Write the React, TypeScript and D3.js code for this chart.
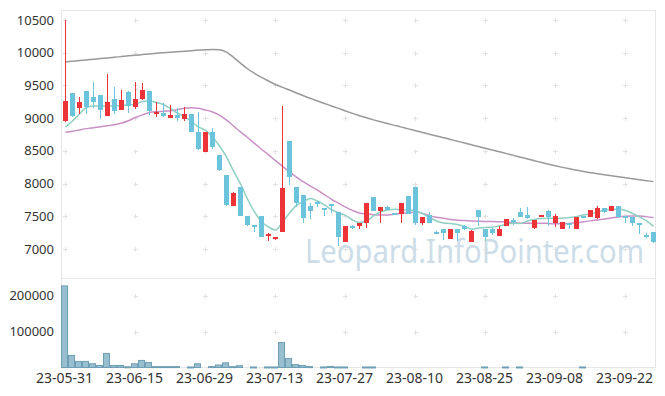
import React from 'react';
import * as d3 from 'd3';

// trading days, 23-05-31 .. 23-10-04
const dates = [
  '23-05-31', '23-06-01', '23-06-02', '23-06-05', '23-06-07', '23-06-08', '23-06-09', '23-06-12', '23-06-13', '23-06-14',
  '23-06-15', '23-06-16', '23-06-19', '23-06-20', '23-06-21', '23-06-22', '23-06-23', '23-06-26', '23-06-27', '23-06-28',
  '23-06-29', '23-06-30', '23-07-03', '23-07-04', '23-07-05', '23-07-06', '23-07-07', '23-07-10', '23-07-11', '23-07-12',
  '23-07-13', '23-07-14', '23-07-17', '23-07-18', '23-07-19', '23-07-20', '23-07-21', '23-07-24', '23-07-25', '23-07-26',
  '23-07-27', '23-07-28', '23-07-31', '23-08-01', '23-08-02', '23-08-03', '23-08-04', '23-08-07', '23-08-08', '23-08-09',
  '23-08-10', '23-08-11', '23-08-14', '23-08-16', '23-08-17', '23-08-18', '23-08-21', '23-08-22', '23-08-23', '23-08-24',
  '23-08-25', '23-08-28', '23-08-29', '23-08-30', '23-08-31', '23-09-01', '23-09-04', '23-09-05', '23-09-06', '23-09-07',
  '23-09-08', '23-09-11', '23-09-12', '23-09-13', '23-09-14', '23-09-15', '23-09-18', '23-09-19', '23-09-20', '23-09-21',
  '23-09-22', '23-09-25', '23-09-26', '23-09-27', '23-10-04',
];

const open = [
  8950, 9380, 9150, 9415, 9320, 9350, 9040, 9290, 9130, 9400,
  9175, 9300, 9415, 9065, 9075, 9000, 9050, 8990, 9065, 8785,
  8490, 8785, 8440, 8130, 7665, 7945, 7505, 7370, 7505, 7195,
  7150, 7265, 8650, 7945, 7825, 7660, 7720, 7625, 7685, 7560,
  7110, 7355, 7355, 7395, 7790, 7575, 7645, 7545, 7530, 7805,
  7945, 7400, 7520, 7265, 7305, 7160, 7305, 7355, 7105, 7595,
  7305, 7305, 7200, 7350, 7440, 7570, 7520, 7315, 7505, 7585,
  7395, 7300, 7400, 7305, 7505, 7495, 7470, 7625, 7585, 7660,
  7505, 7485, 7395, 7215, 7255,
];
const high = [
  10500, 9390, 9320, 9415, 9550, 9355, 9670, 9470, 9425, 9410,
  9550, 9530, 9420, 9240, 9235, 9200, 9150, 9170, 9070, 9090,
  8790, 8845, 8440, 8130, 7870, 7945, 7505, 7370, 7505, 7240,
  7190, 9185, 8650, 7945, 7825, 7700, 7730, 7630, 7690, 7565,
  7355, 7360, 7395, 7700, 7790, 7645, 7650, 7550, 7700, 7805,
  7945, 7490, 7570, 7280, 7310, 7310, 7310, 7360, 7285, 7600,
  7310, 7320, 7355, 7455, 7470, 7625, 7640, 7445, 7525, 7590,
  7535, 7420, 7405, 7490, 7510, 7600, 7650, 7630, 7665, 7660,
  7510, 7490, 7400, 7240, 7255,
];
const low = [
  8940, 9020, 9060, 9060, 9150, 8990, 9030, 9060, 9120, 9075,
  9140, 9270, 9050, 9020, 9020, 8995, 8950, 8950, 8790, 8510,
  8485, 8530, 8195, 7660, 7660, 7505, 7355, 7255, 7185, 7130,
  7140, 7265, 7980, 7640, 7395, 7460, 7640, 7510, 7545, 7050,
  7110, 7310, 7305, 7315, 7575, 7395, 7590, 7525, 7395, 7530,
  7365, 7370, 7395, 7235, 7140, 7155, 7115, 7295, 7100, 7345,
  7115, 7215, 7195, 7345, 7370, 7490, 7455, 7310, 7500, 7350,
  7330, 7300, 7300, 7300, 7490, 7490, 7465, 7550, 7580, 7480,
  7395, 7350, 7230, 7170, 7095,
];
const close = [
  9260, 9040, 9240, 9175, 9240, 9130, 9240, 9115, 9270, 9190,
  9290, 9430, 9115, 9100, 9030, 9050, 9010, 9065, 8795, 8525,
  8785, 8555, 8200, 7675, 7850, 7510, 7360, 7340, 7190, 7235,
  7190, 7935, 8105, 7710, 7470, 7585, 7690, 7590, 7650, 7185,
  7350, 7320, 7395, 7700, 7575, 7645, 7595, 7540, 7700, 7530,
  7405, 7485, 7395, 7245, 7240, 7305, 7250, 7300, 7280, 7485,
  7190, 7250, 7305, 7455, 7435, 7495, 7480, 7445, 7520, 7485,
  7505, 7420, 7385, 7485, 7495, 7595, 7625, 7560, 7660, 7485,
  7480, 7395, 7385, 7190, 7100,
];
const volume = [
  228000, 33800, 17000, 17000, 10400, 5600, 39400, 5600, 5600, 2000,
  10400, 19700, 14000, 2500, 2500, 2500, 2500, 0, 1500, 10400,
  0, 2500, 7000, 13000, 2500, 5000, 0, 1500, 0, 1500,
  1500, 69600, 25400, 8000, 5600, 2500, 0, 1500, 3000, 1500,
  1500, 0, 0, 1500, 1500, 0, 0, 0, 0, 0,
  0, 0, 0, 0, 0, 0, 0, 0, 0, 0,
  1500, 0, 0, 1500, 0, 1500, 0, 0, 0, 0,
  0, 0, 0, 0, 1500, 0, 0, 0, 0, 0,
  0, 0, 0, 0, 0,
];

// moving averages as drawn (short / mid / long)
const maShort = [
  8865, 8957, 9064, 9163, 9186, 9186, 9186, 9186, 9194, 9201,
  9216, 9255, 9262, 9239, 9209, 9148, 9079, 9025, 8949, 8865,
  8812, 8712, 8575, 8407, 8193, 7994, 7765, 7566, 7418, 7337,
  7291, 7413, 7551, 7666, 7727, 7773, 7734, 7673, 7604, 7551,
  7513, 7444, 7406, 7429, 7505, 7566, 7597, 7608, 7597, 7597,
  7582, 7543, 7482, 7429, 7398, 7391, 7375, 7345, 7307, 7322,
  7330, 7333, 7352, 7375, 7398, 7391, 7429, 7452, 7467, 7470,
  7470, 7470, 7482, 7495, 7520, 7536, 7566, 7597, 7608, 7608,
  7589, 7543, 7490, 7429, 7345,
];
const maMid = [
  8784, 8800, 8820, 8840, 8855, 8870, 8885, 8900, 8925, 8960,
  9010, 9050, 9085, 9098, 9105, 9115, 9130, 9150, 9160, 9150,
  9125, 9095, 9045, 8970, 8880, 8790, 8705, 8615, 8525, 8440,
  8350, 8265, 8180, 8100, 8025, 7960, 7900, 7830, 7760, 7700,
  7640, 7590, 7550, 7535, 7525, 7520, 7520, 7530, 7545, 7555,
  7565, 7545, 7510, 7485, 7470, 7450, 7440, 7435, 7430, 7425,
  7420, 7420, 7418, 7415, 7400, 7395, 7395, 7395, 7395, 7390,
  7385, 7385, 7390, 7400, 7415, 7430, 7445, 7460, 7475, 7490,
  7500, 7505, 7505, 7495, 7480,
];
const maLong = [
  9860, 9870, 9880, 9890, 9900, 9910, 9920, 9930, 9941, 9952,
  9962, 9972, 9982, 9991, 10000, 10008, 10016, 10024, 10032, 10040,
  10045, 10048, 10045, 10010, 9930, 9840, 9755, 9685, 9622, 9568,
  9515, 9470, 9430, 9385, 9342, 9302, 9263, 9225, 9187, 9149,
  9110, 9073, 9038, 9005, 8974, 8945, 8917, 8890, 8863, 8836,
  8809, 8782, 8755, 8728, 8701, 8674, 8647, 8620, 8593, 8566,
  8539, 8512, 8485, 8458, 8431, 8404, 8377, 8350, 8323, 8297,
  8272, 8248, 8226, 8205, 8185, 8167, 8150, 8135, 8120, 8105,
  8090, 8075, 8060, 8045, 8030,
];

const priceTicks = [7000, 7500, 8000, 8500, 9000, 9500, 10000, 10500];
const volumeTicks = [100000, 200000];

const W = 665, H = 396;
const L = 61, R = 656;
const pTop = 10, pBottom = 278;
const vTop = 278, vBottom = 367.5;
const font = '"Noto Sans", "DejaVu Sans", sans-serif';
const UP = '#ec3338', DOWN = '#6cc3dc';

export default function App() {
  const idx = d3.range(dates.length);
  const x = d3.scaleBand<number>().domain(idx).range([L, R]);
  const bw = x.bandwidth();
  const cx = (i: number) => Math.round(x(i)! + bw / 2) + 0.5;
  const y = d3.scaleLinear().domain([6557, 10653]).range([pBottom, pTop]);
  const yv = d3.scaleLinear().domain([0, 250000]).range([vBottom, vTop]);

  const mkLine = (vals: number[]) =>
    d3.line<number>().x((_, i) => cx(i)).y(v => y(v)).curve(d3.curveMonotoneX)(vals) || '';

  const xTicks = idx.filter(i => i % 10 === 0);
  const crossYs = [...priceTicks.map(v => y(v)), ...volumeTicks.map(v => yv(v))];

  return (
    <>
      <style>{'body{margin:0}'}</style>
      <svg width={W} height={H} style={{ display: 'block', background: '#fff' }} fontFamily={font}>
        {/* frame */}
        <g stroke="#e6e6e6" fill="none" shapeRendering="crispEdges">
          <line x1={L} x2={R - 1} y1={pTop} y2={pTop} />
          <line x1={L} x2={R - 1} y1={pBottom} y2={pBottom} />
          <line x1={L} x2={R - 1} y1={vBottom} y2={vBottom} />
          <line x1={L} x2={L} y1={pTop} y2={vBottom} />
          <line x1={R - 1} x2={R - 1} y1={pTop} y2={vBottom} />
        </g>

        {/* grid crosses */}
        <g stroke="#e2e2e2" shapeRendering="crispEdges">
          {xTicks.map(i => crossYs.map((cy, k) => (
            <g key={`${i}-${k}`}>
              <line x1={cx(i) - 2.5} x2={cx(i) + 2.5} y1={Math.round(cy) + 0.5} y2={Math.round(cy) + 0.5} />
              <line x1={cx(i)} x2={cx(i)} y1={Math.round(cy) - 2} y2={Math.round(cy) + 3} />
            </g>
          )))}
        </g>

        {/* watermark */}
        <text x={644} y={263} textAnchor="end" fontSize={32} fill="#cddde8"
          textLength={339} lengthAdjust="spacingAndGlyphs">Leopard.InfoPointer.com</text>

        {/* moving averages */}
        <path d={mkLine(maLong)} fill="none" stroke="#999" strokeWidth={1.5} />
        <path d={mkLine(maMid)} fill="none" stroke="#c98fc6" strokeWidth={1.5} />
        <path d={mkLine(maShort)} fill="none" stroke="#8fd0c2" strokeWidth={1.5} />

        {/* candles */}
        <g shapeRendering="crispEdges">
          {idx.map(i => {
            const up = close[i] >= open[i];
            const c = up ? UP : DOWN;
            const yTop = Math.round(y(Math.max(open[i], close[i])));
            const yBot = Math.round(y(Math.min(open[i], close[i])));
            return (
              <g key={i}>
                <line x1={cx(i)} x2={cx(i)} y1={y(high[i])} y2={y(low[i])} stroke={c} strokeWidth={1} />
                <rect x={cx(i) - 2.5} width={5} y={yTop} height={Math.max(2, yBot - yTop)} fill={c} />
              </g>
            );
          })}
        </g>

        {/* volume */}
        <g>
          {idx.filter(i => volume[i] > 0).map(i => (
            <rect key={i} x={x(i)! + 0.5} width={bw - 1} y={yv(volume[i])}
              height={Math.max(1, vBottom - yv(volume[i]))}
              fill="#98bfd0" stroke="#6f9fb4" strokeWidth={1} />
          ))}
        </g>

        {/* y labels */}
        <g fontSize={13} fill="#333" textAnchor="end">
          {priceTicks.map(v => (
            <text key={v} x={54} y={y(v)} dy="0.35em">{v}</text>
          ))}
          {volumeTicks.map(v => (
            <text key={v} x={54} y={yv(v)} dy="0.35em">{v}</text>
          ))}
        </g>

        {/* x labels */}
        <g fontSize={14} fill="#333" textAnchor="middle">
          {xTicks.map(i => (
            <text key={i} x={cx(i) - 1} y={383}>{dates[i]}</text>
          ))}
        </g>
      </svg>
    </>
  );
}
